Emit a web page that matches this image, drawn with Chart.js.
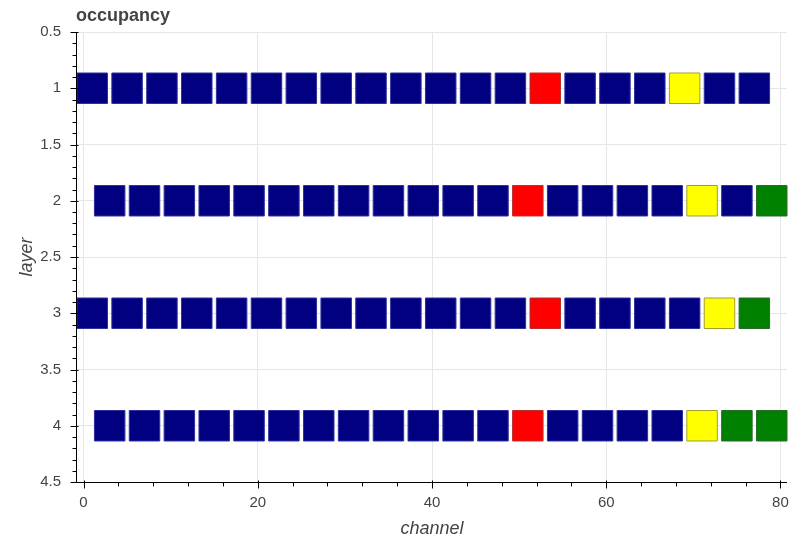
<!DOCTYPE html>
<html>
<head>
<meta charset="utf-8">
<script src="https://cdn.jsdelivr.net/npm/chart.js@4/dist/chart.umd.min.js"></script>
<style>
  html, body { margin: 0; padding: 0; background: #fff; }
  #wrap { width: 790px; height: 540px; }
</style>
</head>
<body>
<div id="wrap"><canvas id="c" width="790" height="540"></canvas></div>
<script>
// Layer numbers (y) and channel positions (x) of each cell row
const layers = [1, 2, 3, 4];
const channelsA = [1, 5, 9, 13, 17, 21, 25, 29, 33, 37, 41, 45, 49, 53, 57, 61, 65, 69, 73, 77];
const channelsB = [3, 7, 11, 15, 19, 23, 27, 31, 35, 39, 43, 47, 51, 55, 59, 63, 67, 71, 75, 79];

// Cell status per layer: 0 = ok, 1 = dead, 2 = noisy, 3 = masked
const statusLayer1 = [0,0,0,0,0,0,0,0,0,0,0,0,0,1,0,0,0,2,0,0];
const statusLayer2 = [0,0,0,0,0,0,0,0,0,0,0,0,1,0,0,0,0,2,0,3];
const statusLayer3 = [0,0,0,0,0,0,0,0,0,0,0,0,0,1,0,0,0,0,2,3];
const statusLayer4 = [0,0,0,0,0,0,0,0,0,0,0,0,1,0,0,0,0,2,3,3];

const statusColors = ['#000080', '#ff0000', '#ffff00', '#008000'];
const statusBorders = ['#3030a0', '#b83030', '#a0a030', '#2a6a2a'];

const xTicks = [0, 20, 40, 60, 80];
const yTicks = [0.5, 1, 1.5, 2, 2.5, 3, 3.5, 4, 4.5];

const cellWidth = 3.5;

const rows = [
  { layer: layers[0], channels: channelsA, status: statusLayer1 },
  { layer: layers[1], channels: channelsB, status: statusLayer2 },
  { layer: layers[2], channels: channelsA, status: statusLayer3 },
  { layer: layers[3], channels: channelsB, status: statusLayer4 }
];

const points = [];
rows.forEach(r => r.channels.forEach((ch, i) => points.push({ x: ch, y: r.layer, s: r.status[i] })));

const textColor = '#444444';
const fontFamily = '"Liberation Sans", Arial, Helvetica, sans-serif';

// Square cell size in pixels, taken from the channel scale
const cellRadius = ctx => {
  const xs = ctx.chart.scales.x;
  const side = Math.abs(xs.getPixelForValue(cellWidth) - xs.getPixelForValue(0));
  return side / Math.SQRT2;
};

// Axis lines with major ticks crossing the line and outward minor ticks, plus the title
const tickMarks = {
  id: 'tickMarks',
  afterDraw(chart) {
    const ctx = chart.ctx;
    const xs = chart.scales.x, ys = chart.scales.y;
    const area = chart.chartArea;
    ctx.save();
    ctx.strokeStyle = '#000';
    ctx.lineWidth = 1;
    ctx.beginPath();
    ctx.moveTo(area.left - 0.5, area.top);
    ctx.lineTo(area.left - 0.5, area.bottom + 1);
    ctx.moveTo(area.left - 1, area.bottom + 0.5);
    ctx.lineTo(area.right, area.bottom + 0.5);
    for (let i = 5; i <= 45; i++) {
      const py = Math.round(ys.getPixelForValue(i / 10)) + 0.5;
      const major = i % 5 === 0;
      ctx.moveTo(area.left - 0.5 - (major ? 6 : 4), py);
      ctx.lineTo(area.left - 0.5 + (major ? 2 : 0), py);
    }
    for (let v = 0; v <= 80; v += 4) {
      const px = Math.round(xs.getPixelForValue(v)) + 0.5;
      const major = v % 20 === 0;
      ctx.moveTo(px, area.bottom + 0.5 + (major ? 6 : 4));
      ctx.lineTo(px, area.bottom + 0.5 - (major ? 2 : 0));
    }
    ctx.stroke();

    ctx.fillStyle = textColor;
    ctx.font = 'bold 18px ' + fontFamily;
    ctx.textAlign = 'left';
    ctx.textBaseline = 'alphabetic';
    ctx.fillText('occupancy', 76, 21);
    ctx.restore();
  }
};

new Chart(document.getElementById('c'), {
  type: 'scatter',
  data: {
    datasets: [{
      data: points,
      pointStyle: 'rect',
      clip: false,
      backgroundColor: ctx => statusColors[ctx.raw ? ctx.raw.s : 0],
      borderColor: ctx => statusBorders[ctx.raw ? ctx.raw.s : 0],
      borderWidth: 1,
      pointRadius: cellRadius,
      pointHoverRadius: cellRadius
    }]
  },
  options: {
    responsive: false,
    animation: false,
    layout: { padding: { top: 32, right: 3, left: 0, bottom: 0 } },
    plugins: {
      legend: { display: false },
      tooltip: { enabled: false },
      title: { display: false }
    },
    scales: {
      x: {
        type: 'linear',
        min: -0.75,
        max: 80.75,
        afterBuildTicks: s => { s.ticks = xTicks.map(v => ({ value: v })); },
        afterFit: s => { s.height = 58; s.paddingLeft = 0; s.paddingRight = 0; },
        grid: { color: '#e6e6e6', drawTicks: false, lineWidth: 1 },
        border: { display: false },
        ticks: {
          color: textColor,
          padding: 12,
          font: { family: fontFamily, size: 15 },
          maxRotation: 0,
          callback: v => String(v)
        },
        title: {
          display: true,
          text: 'channel',
          color: textColor,
          font: { family: fontFamily, size: 18, style: 'italic' },
          padding: { top: 0, bottom: 0 }
        }
      },
      y: {
        type: 'linear',
        reverse: true,
        min: 0.5,
        max: 4.5,
        afterBuildTicks: s => { s.ticks = yTicks.map(v => ({ value: v })); },
        afterFit: s => { s.width = 77; s.paddingTop = 0; s.paddingBottom = 0; },
        grid: { color: '#e6e6e6', drawTicks: false, lineWidth: 1 },
        border: { display: false },
        ticks: {
          color: textColor,
          padding: 16,
          font: { family: fontFamily, size: 15 },
          callback: v => String(v)
        },
        title: {
          display: true,
          text: 'layer',
          color: textColor,
          font: { family: fontFamily, size: 18, style: 'italic' },
          padding: { top: 16, bottom: 0 }
        }
      }
    }
  },
  plugins: [tickMarks]
});
</script>
</body>
</html>
